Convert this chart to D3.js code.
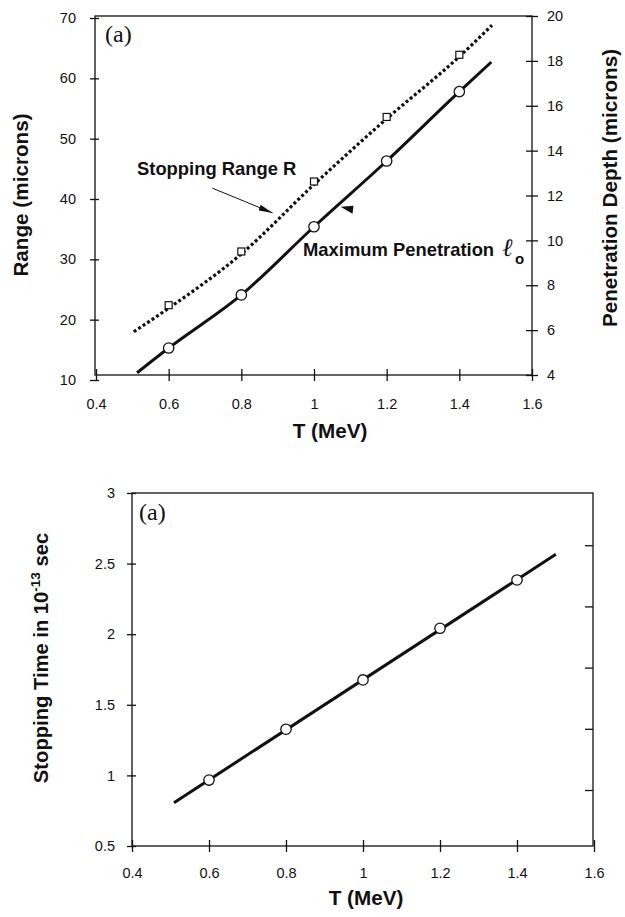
<!DOCTYPE html>
<html>
<head>
<meta charset="UTF-8">
<style>
  body { margin: 0; background: #fff; }
  svg { display: block; }
  .tick text { font-family: "Liberation Sans", Arial, sans-serif; font-size: 14.5px; fill: #111; }
  .tick line { stroke: #111; stroke-width: 1.3; }
  .lbl { font-family: "Liberation Sans", Arial, sans-serif; font-weight: bold; font-size: 20.7px; fill: #111; }
  .note { font-family: "Liberation Sans", Arial, sans-serif; font-weight: bold; font-size: 18.4px; fill: #111; }
  .panel { font-family: "Liberation Serif", "Times New Roman", serif; font-size: 24px; fill: #111; }
</style>
</head>
<body>
<svg id="chart" width="625" height="917"></svg>
<script src="https://d3js.org/d3.v7.min.js"></script>
<script>
// measured points, T in MeV
const energy = [0.6, 0.8, 1.0, 1.2, 1.4];
const stoppingRange = [22.4, 31.3, 42.9, 53.6, 63.9];   // squares (microns)
const maxPenetration = [15.3, 24.1, 35.4, 46.3, 57.8];  // circles (microns)
const stoppingTime = [0.967, 1.327, 1.676, 2.042, 2.384]; // 1e-13 s

// fitted curves
const rangeFitT = [0.504, 0.6, 0.8, 1.0, 1.2, 1.4, 1.49];
const rangeFit = [18.0, 21.9, 30.9, 42.4, 53.3, 63.6, 68.8];
const penFitT = [0.513, 0.6, 0.8, 1.0, 1.2, 1.4, 1.488];
const penFit = [11.2, 15.3, 24.1, 35.4, 46.3, 57.8, 62.7];
const timeFitT = [0.509, 1.501];
const timeFit = [0.807, 2.566];

// ticks
const energyTicks = [0.4, 0.6, 0.8, 1, 1.2, 1.4, 1.6];
const rangeTicks = [10, 20, 30, 40, 50, 60, 70];
const depthTicks = [4, 6, 8, 10, 12, 14, 16, 18, 20];
const timeTicks = [0.5, 1, 1.5, 2, 2.5, 3];
const timeRightTicks = [1, 2, 3, 4, 5];

const svg = d3.select("#chart");
const ink = "#111";

function crossTicks(g, a, b, dir) {
  // ticks drawn across the axis line
  g.selectAll(".tick line").attr(dir + "1", a).attr(dir + "2", b);
  g.select(".domain").remove();
}

function frame(g, x0, x1, y0, y1) {
  g.append("rect")
    .attr("x", x0).attr("y", y0)
    .attr("width", x1 - x0).attr("height", y1 - y0)
    .attr("fill", "none").attr("stroke", ink).attr("stroke-width", 1.3);
}

// ---------- top panel ----------
const upper = svg.append("g");
const x1 = d3.scaleLinear().domain([0.4, 1.6]).range([96, 532]);
const yR = d3.scaleLinear().domain([10, 70]).range([380, 18]);
const yD = d3.scaleLinear().domain([4, 20]).range([375, 16]);

frame(upper, 95, 532, 16, 375);

upper.append("g").attr("transform", "translate(0,375)")
  .call(d3.axisBottom(x1).tickValues(energyTicks).tickFormat(d3.format("")))
  .call(g => crossTicks(g, -6, 6, "y"))
  .call(g => g.selectAll(".tick text").attr("y", 24));

upper.append("g").attr("transform", "translate(95,0)")
  .call(d3.axisLeft(yR).tickValues(rangeTicks))
  .call(g => crossTicks(g, -5, 4, "x"))
  .call(g => g.selectAll(".tick text").attr("x", -19));

upper.append("g").attr("transform", "translate(532,0)")
  .call(d3.axisRight(yD).tickValues(depthTicks))
  .call(g => crossTicks(g, -6, 6, "x"))
  .call(g => g.selectAll(".tick text").attr("x", 15));

const lineR = d3.line().x((d, i) => x1(rangeFitT[i])).y(d => yR(d)).curve(d3.curveMonotoneX);
const lineP = d3.line().x((d, i) => x1(penFitT[i])).y(d => yR(d)).curve(d3.curveMonotoneX);

upper.append("path").attr("d", lineR(rangeFit))
  .attr("fill", "none").attr("stroke", ink).attr("stroke-width", 3.2)
  .attr("stroke-dasharray", "3,2.4");
upper.append("path").attr("d", lineP(penFit))
  .attr("fill", "none").attr("stroke", ink).attr("stroke-width", 3);

upper.selectAll("rect.sq").data(stoppingRange).join("rect").attr("class", "sq")
  .attr("x", (d, i) => x1(energy[i]) - 3.5).attr("y", d => yR(d) - 3.5)
  .attr("width", 7).attr("height", 7)
  .attr("fill", "#fff").attr("stroke", ink).attr("stroke-width", 1.2);

upper.selectAll("circle").data(maxPenetration).join("circle")
  .attr("cx", (d, i) => x1(energy[i])).attr("cy", d => yR(d)).attr("r", 5.2)
  .attr("fill", "#fff").attr("stroke", ink).attr("stroke-width", 1.3);

// annotations
svg.append("defs").append("marker")
  .attr("id", "head").attr("viewBox", "0 0 14 6").attr("refX", 14).attr("refY", 3)
  .attr("markerWidth", 14).attr("markerHeight", 6).attr("markerUnits", "userSpaceOnUse")
  .attr("orient", "auto")
  .append("path").attr("d", "M0,0L14,3L0,6Z").attr("fill", ink);

upper.append("line")
  .attr("x1", x1(0.72)).attr("y1", yR(41.8))
  .attr("x2", x1(0.886)).attr("y2", yR(37.7))
  .attr("stroke", ink).attr("stroke-width", 1).attr("marker-end", "url(#head)");

upper.append("text").attr("class", "note").attr("x", 137).attr("y", 175).text("Stopping Range R");

// small pointer towards the penetration curve
const tip = [x1(1.073), yR(38.7)];
upper.append("path")
  .attr("d", `M${tip[0]},${tip[1]}L${tip[0] + 13},${tip[1] - 1}L${tip[0] + 12},${tip[1] + 7}Z`)
  .attr("fill", ink);

upper.append("text").attr("class", "note").attr("x", 303).attr("y", 256)
  .text("Maximum Penetration");
upper.append("text").attr("x", 502).attr("y", 256)
  .style("font-family", "'Liberation Serif', 'DejaVu Serif', serif")
  .style("font-style", "italic").style("font-size", "25px").attr("fill", ink).text("ℓ");
upper.append("text").attr("x", 515).attr("y", 264).attr("class", "note")
  .style("font-size", "15px").text("o");

upper.append("text").attr("class", "panel").attr("x", 105).attr("y", 42).text("(a)");

upper.append("text").attr("class", "lbl")
  .attr("transform", "translate(28,195) rotate(-90)").attr("text-anchor", "middle")
  .text("Range (microns)");
upper.append("text").attr("class", "lbl")
  .attr("transform", "translate(617,188) rotate(-90)").attr("text-anchor", "middle")
  .text("Penetration Depth (microns)");
upper.append("text").attr("class", "lbl").attr("x", 330).attr("y", 438)
  .attr("text-anchor", "middle").text("T (MeV)");

// ---------- bottom panel ----------
const lower = svg.append("g");
const x2 = d3.scaleLinear().domain([0.4, 1.6]).range([132, 594]);
const yT = d3.scaleLinear().domain([0.5, 3]).range([846, 493]);
const yT2 = d3.scaleLinear().domain([0.085, 5.853]).range([846, 493]);

frame(lower, 132, 593, 493, 846);

lower.append("g").attr("transform", "translate(0,846)")
  .call(d3.axisBottom(x2).tickValues(energyTicks).tickFormat(d3.format("")))
  .call(g => crossTicks(g, -6, 6, "y"))
  .call(g => g.selectAll(".tick text").attr("y", 22));

lower.append("g").attr("transform", "translate(132,0)")
  .call(d3.axisLeft(yT).tickValues(timeTicks).tickFormat(d3.format("")))
  .call(g => crossTicks(g, -5, 4, "x"))
  .call(g => g.selectAll(".tick text").attr("x", -17));

lower.append("g").attr("transform", "translate(593,0)")
  .call(d3.axisRight(yT2).tickValues(timeRightTicks).tickFormat(""))
  .call(g => crossTicks(g, -8, 0, "x"));

const lineT = d3.line().x((d, i) => x2(timeFitT[i])).y(d => yT(d));
lower.append("path").attr("d", lineT(timeFit))
  .attr("fill", "none").attr("stroke", ink).attr("stroke-width", 3);

lower.selectAll("circle").data(stoppingTime).join("circle")
  .attr("cx", (d, i) => x2(energy[i])).attr("cy", d => yT(d)).attr("r", 5.2)
  .attr("fill", "#fff").attr("stroke", ink).attr("stroke-width", 1.3);

lower.append("text").attr("class", "panel").attr("x", 139).attr("y", 520).text("(a)");

const ty = lower.append("text").attr("class", "lbl").style("font-size", "20.2px")
  .attr("transform", "translate(48,658) rotate(-90)").attr("text-anchor", "middle");
ty.append("tspan").text("Stopping Time in 10");
ty.append("tspan").attr("dy", -8).style("font-size", "13.5px").text("-13");
ty.append("tspan").attr("dy", 8).text(" sec");

lower.append("text").attr("class", "lbl").attr("x", 366).attr("y", 905)
  .attr("text-anchor", "middle").text("T (MeV)");
</script>
</body>
</html>
